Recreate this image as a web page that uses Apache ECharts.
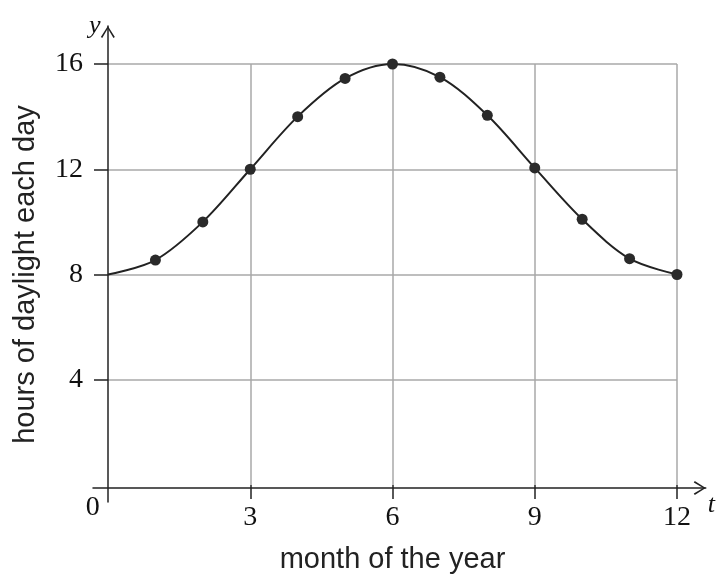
<!DOCTYPE html>
<html>
<head>
<meta charset="UTF-8">
<script src="https://cdn.jsdelivr.net/npm/echarts@6/dist/echarts.min.js"></script>
<style>
  html, body { margin: 0; padding: 0; background: #fff; }
  #main { width: 718px; height: 579px; }
</style>
</head>
<body>
<div id="main"></div>
<script>
// data
var months = [0, 1, 2, 3, 4, 5, 6, 7, 8, 9, 10, 11, 12];
var hours = [8, 8.55, 10, 12, 14, 15.45, 16, 15.5, 14.05, 12.05, 10.1, 8.6, 8.0];
var xTicks = [3, 6, 9, 12];
var yTicks = [4, 8, 12, 16];

// plot box in pixels
var L = 108, R = 677, T = 64, B = 488;
var W = 718, H = 579;
var kx = (R - L) / 12, ky = (B - T) / 16;
// outer box for the arrowed axes
var axL = 93, axR = 712, axT = 26, axB = 502;

var chart = echarts.init(document.getElementById('main'));

var arrowUp = 'path://M7,0 L14,11 L12.6,12 L7,2.6 L1.4,12 L0,11 Z';
var serif = 'Liberation Serif';
var sans = 'Liberation Sans';

var pts = months.map(function (m, i) {
  var d = { value: [m, hours[i]] };
  if (m === 0) d.symbol = 'none';
  return d;
});

var option = {
  animation: false,
  grid: [
    { left: L, right: W - R, top: T, bottom: H - B },
    { left: axL, right: W - axR, top: axT, bottom: H - axB }
  ],
  xAxis: [
    {
      gridIndex: 0, type: 'value', min: 0, max: 12, interval: 3,
      axisLine: { show: false },
      axisTick: { show: true, length: 14, customValues: xTicks, lineStyle: { color: '#222', width: 1.5 } },
      axisLabel: { customValues: xTicks, margin: 19, fontFamily: serif, fontSize: 28, color: '#111' },
      splitLine: { show: true, lineStyle: { color: '#a8a8a8', width: 1.5 } },
      name: 'month of the year', nameLocation: 'middle', nameGap: 60,
      nameTextStyle: { fontFamily: sans, fontSize: 29, color: '#222' }
    },
    {
      gridIndex: 1, type: 'value',
      min: (axL - L) / kx, max: (axR - L) / kx,
      axisLine: {
        onZero: true, symbol: ['none', arrowUp], symbolSize: [14, 12], symbolOffset: [0, -6],
        lineStyle: { color: '#222', width: 1.5 }
      },
      axisTick: { show: false },
      axisLabel: {
        customValues: [0], margin: -8, fontFamily: serif, fontSize: 28, color: '#111',
        padding: [0, 30, 0, 0]
      },
      splitLine: { show: false },
      name: 't', nameLocation: 'end', nameGap: 2,
      nameTextStyle: { fontFamily: serif, fontStyle: 'italic', fontSize: 26, color: '#111', verticalAlign: 'top', padding: [4, 0, 0, 0] }
    }
  ],
  yAxis: [
    {
      gridIndex: 0, type: 'value', min: 0, max: 16, interval: 4,
      axisLine: { show: false },
      axisTick: { show: true, length: 14, customValues: yTicks, lineStyle: { color: '#222', width: 1.5 } },
      axisLabel: { customValues: yTicks, margin: 25, fontFamily: serif, fontSize: 28, color: '#111' },
      splitLine: { show: true, lineStyle: { color: '#a8a8a8', width: 1.5 } },
      name: 'hours of daylight each day', nameLocation: 'middle', nameGap: 68,
      nameTextStyle: { fontFamily: sans, fontSize: 29, color: '#222' }
    },
    {
      gridIndex: 1, type: 'value',
      min: -(axB - B) / ky, max: (B - axT) / ky,
      axisLine: {
        onZero: true, symbol: ['none', arrowUp], symbolSize: [14, 12], symbolOffset: [0, -6],
        lineStyle: { color: '#222', width: 1.5 }
      },
      axisTick: { show: false },
      axisLabel: { show: false },
      splitLine: { show: false },
      name: 'y', nameLocation: 'end', nameGap: 0,
      nameTextStyle: { fontFamily: serif, fontStyle: 'italic', fontSize: 26, color: '#111', verticalAlign: 'middle', padding: [0, 26, 0, 0] }
    }
  ],
  series: [
    {
      type: 'line', xAxisIndex: 0, yAxisIndex: 0,
      data: pts, smooth: 0.33,
      symbol: 'circle', symbolSize: 11, showAllSymbol: true,
      lineStyle: { color: '#222', width: 2 },
      itemStyle: { color: '#2a2a2a' },
      z: 5
    }
  ]
};
chart.setOption(option);
</script>
</body>
</html>
